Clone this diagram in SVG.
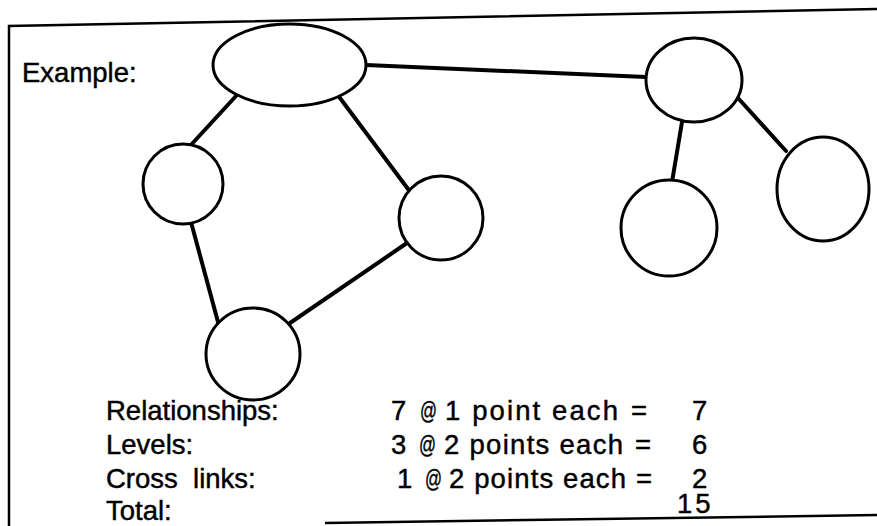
<svg xmlns="http://www.w3.org/2000/svg" width="877" height="526" viewBox="0 0 877 526">
  <style>
    .node { fill: #fff; stroke: #000; stroke-width: 3; }
    .edge { stroke: #000; stroke-width: 4; stroke-linecap: round; }
    .frame { stroke: #000; stroke-width: 2.5; fill: none; }
    text { font-family: "Liberation Sans", Arial, sans-serif; font-size: 27.5px; fill: #000; stroke: #000; stroke-width: 0.45; }
    .at { font-size: 23px; }
  </style>
  <rect width="877" height="526" fill="#fff"/>

  <!-- page frame -->
  <g id="frame">
    <polyline class="frame" points="9,526 9,26 877,9"/>
    <line class="frame" x1="325" y1="523" x2="877" y2="515"/>
  </g>

  <text x="22" y="82">Example:</text>

  <!-- connectors -->
  <g id="connectors">
    <line class="edge" x1="366" y1="65" x2="646" y2="77"/>
    <line class="edge" x1="236" y1="96" x2="190" y2="146"/>
    <line class="edge" x1="337" y1="94" x2="408" y2="189"/>
    <line class="edge" x1="191" y1="222" x2="218" y2="322"/>
    <line class="edge" x1="407" y1="243" x2="290" y2="323"/>
    <line class="edge" x1="682" y1="122" x2="672" y2="182"/>
    <line class="edge" x1="738" y1="98" x2="786" y2="151"/>
  </g>

  <!-- nodes -->
  <g id="node-root"><ellipse class="node" cx="289.5" cy="65" rx="76.5" ry="41"/></g>
  <g id="node-left"><ellipse class="node" cx="183" cy="184" rx="40" ry="40"/></g>
  <g id="node-middle"><ellipse class="node" cx="441" cy="218" rx="42" ry="42"/></g>
  <g id="node-bottom"><ellipse class="node" cx="253" cy="354" rx="47" ry="46"/></g>
  <g id="node-right"><ellipse class="node" cx="694" cy="80" rx="48" ry="42"/></g>
  <g id="node-right-child"><ellipse class="node" cx="669" cy="228" rx="48" ry="48"/></g>
  <g id="node-far-right"><ellipse class="node" cx="823" cy="189" rx="46" ry="52"/></g>

  <!-- scoring table -->
  <g id="scores">
    <text x="106" y="420">Relationships:</text>
    <text x="106" y="454">Levels:</text>
    <text x="106" y="488" xml:space="preserve">Cross  links:</text>
    <text x="106" y="520">Total:</text>

    <text x="391" y="420">7</text>
    <text class="at" x="420" y="419" textLength="17" lengthAdjust="spacingAndGlyphs">@</text>
    <text x="445" y="420" textLength="173" lengthAdjust="spacing">1 point each</text>
    <text x="631" y="420">=</text>
    <text x="692" y="420">7</text>

    <text x="391" y="454">3</text>
    <text class="at" x="419" y="453" textLength="17" lengthAdjust="spacingAndGlyphs">@</text>
    <text x="444" y="454" textLength="179" lengthAdjust="spacing">2 points each</text>
    <text x="635" y="454">=</text>
    <text x="692" y="454">6</text>

    <text x="397" y="488">1</text>
    <text class="at" x="425" y="487" textLength="17" lengthAdjust="spacingAndGlyphs">@</text>
    <text x="449" y="488" textLength="177" lengthAdjust="spacing">2 points each</text>
    <text x="636" y="488">=</text>
    <text x="692" y="488">2</text>

    <text x="677" y="513" letter-spacing="3">15</text>
  </g>
</svg>
